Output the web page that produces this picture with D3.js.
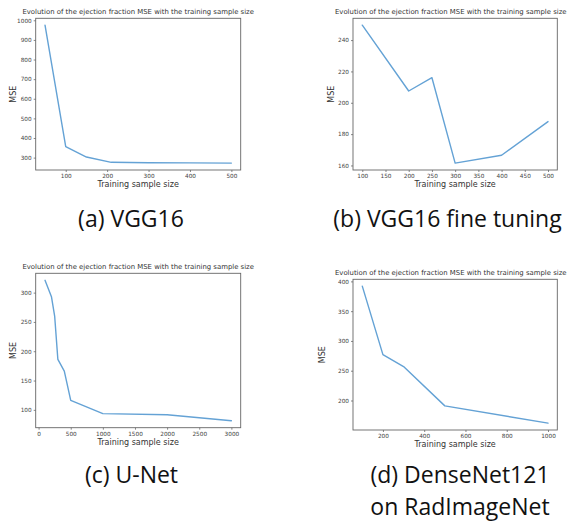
<!DOCTYPE html>
<html lang="en">
<head>
  <meta charset="UTF-8">
  <title>Ejection fraction MSE vs training sample size</title>
  <script src="https://d3js.org/d3.v7.min.js"></script>
  <style>
    body { margin: 0; background: #fff; }
    .tick text { font-family: 'DejaVu Sans', sans-serif; }
  </style>
</head>
<body>
<svg width="568" height="521"></svg>
<script>
  // (a) VGG16
  var vggSizes = [50, 100, 150, 210, 300, 400, 500];
  var vggMse = [975, 356, 303, 276, 274, 273, 272];
  // (b) VGG16 fine tuning
  var vggFtSizes = [100, 200, 250, 300, 400, 500];
  var vggFtMse = [249.5, 207.5, 216, 161.5, 166.5, 188];
  // (c) U-Net
  var unetSizes = [100, 200, 250, 300, 400, 500, 1000, 2000, 3000];
  var unetMse = [321, 293, 260, 186, 166, 116, 93.5, 91.5, 81.5];
  // (d) DenseNet121 on RadImageNet
  var denseSizes = [100, 200, 300, 500, 1000];
  var denseMse = [392, 277, 257, 191, 162];

  var title = 'Evolution of the ejection fraction MSE with the training sample size';
  var xLabel = 'Training sample size';
  var yLabel = 'MSE';

  var panels = [
    {x: vggSizes, y: vggMse, xTicks: [100, 200, 300, 400, 500],
     yTicks: [300, 400, 500, 600, 700, 800, 900, 1000],
     caption: ['(a) VGG16'],
     box: {l: 35.7, r: 240.7, t: 18.3, b: 170}, yLabelX: 13, capX: 131, capY: 227},
    {x: vggFtSizes, y: vggFtMse, xTicks: [100, 150, 200, 250, 300, 350, 400, 450, 500],
     yTicks: [160, 180, 200, 220, 240],
     caption: ['(b) VGG16 fine tuning'],
     box: {l: 353, r: 557.3, t: 18.3, b: 170}, yLabelX: 331, capX: 447.5, capY: 227},
    {x: unetSizes, y: unetMse, xTicks: [0, 500, 1000, 1500, 2000, 2500, 3000],
     yTicks: [100, 150, 200, 250, 300],
     caption: ['(c) U-Net'],
     box: {l: 35.7, r: 240.7, t: 273.3, b: 427.7}, yLabelX: 13.3, capX: 131.5, capY: 483},
    {x: denseSizes, y: denseMse, xTicks: [200, 400, 600, 800, 1000],
     yTicks: [200, 250, 300, 350, 400],
     caption: ['(d) DenseNet121', 'on RadImageNet'],
     box: {l: 353, r: 557.3, t: 279.3, b: 430}, yLabelX: 322, capX: 460, capY: 483}
  ];

  var svg = d3.select('svg');
  var svgWidth = +svg.attr('width');

  // matplotlib-style 5% padding around the data
  function padded(values) {
    var ext = d3.extent(values);
    var m = (ext[1] - ext[0]) * 0.05;
    return [ext[0] - m, ext[1] + m];
  }

  panels.forEach(function (p) {
    var b = p.box;
    var points = p.x.map(function (v, i) { return {size: v, mse: p.y[i]}; });

    var x = d3.scaleLinear().domain(padded(p.x)).range([b.l, b.r]);
    var y = d3.scaleLinear().domain(padded(p.y)).range([b.b, b.t]);

    var g = svg.append('g');

    var xAxis = g.append('g')
      .attr('transform', 'translate(0,' + b.b + ')')
      .call(d3.axisBottom(x).tickValues(p.xTicks).tickFormat(d3.format('d'))
        .tickSize(2).tickPadding(2));
    var yAxis = g.append('g')
      .attr('transform', 'translate(' + b.l + ',0)')
      .call(d3.axisLeft(y).tickValues(p.yTicks).tickFormat(d3.format('d'))
        .tickSize(2).tickPadding(2));

    [xAxis, yAxis].forEach(function (ax) {
      ax.select('.domain').remove();
      ax.selectAll('.tick line').attr('stroke', '#555').attr('stroke-width', 0.7);
      ax.selectAll('.tick text').attr('fill', '#444').style('font-size', '5.75px');
    });

    g.append('path')
      .datum(points)
      .attr('fill', 'none')
      .attr('stroke', '#64a2d5')
      .attr('stroke-width', 1.4)
      .attr('stroke-linejoin', 'round')
      .attr('stroke-linecap', 'round')
      .attr('d', d3.line()
        .x(function (d) { return x(d.size); })
        .y(function (d) { return y(d.mse); }));

    g.append('rect')
      .attr('x', b.l)
      .attr('y', b.t)
      .attr('width', b.r - b.l)
      .attr('height', b.b - b.t)
      .attr('fill', 'none')
      .attr('stroke', '#666')
      .attr('stroke-width', 0.9);

    var t = g.append('text')
      .attr('x', (b.l + b.r) / 2)
      .attr('y', b.t - 4)
      .attr('text-anchor', 'middle')
      .attr('fill', '#333')
      .style('font-family', 'DejaVu Sans, sans-serif')
      .style('font-size', '6.9px')
      .text(title);
    // keep the title inside the page on the right-hand panels
    var tw = t.node().getComputedTextLength();
    if ((b.l + b.r) / 2 + tw / 2 > svgWidth - 1) {
      t.attr('text-anchor', 'end').attr('x', svgWidth - 1.5);
    }

    g.append('text')
      .attr('x', (b.l + b.r) / 2)
      .attr('y', b.b + 17)
      .attr('text-anchor', 'middle')
      .attr('fill', '#333')
      .style('font-family', 'DejaVu Sans, sans-serif')
      .style('font-size', '8px')
      .text(xLabel);

    g.append('text')
      .attr('transform', 'translate(' + (p.yLabelX + 3) + ',' + ((b.t + b.b) / 2) + ') rotate(-90)')
      .attr('text-anchor', 'middle')
      .attr('fill', '#333')
      .style('font-family', 'DejaVu Sans, sans-serif')
      .style('font-size', '8px')
      .text(yLabel);

    p.caption.forEach(function (line, i) {
      svg.append('text')
        .attr('x', p.capX)
        .attr('y', p.capY + i * 32)
        .attr('text-anchor', 'middle')
        .attr('fill', '#111')
        .style('font-family', 'Open Sans, sans-serif')
        .style('font-size', '23px')
        .text(line);
    });
  });
</script>
</body>
</html>
